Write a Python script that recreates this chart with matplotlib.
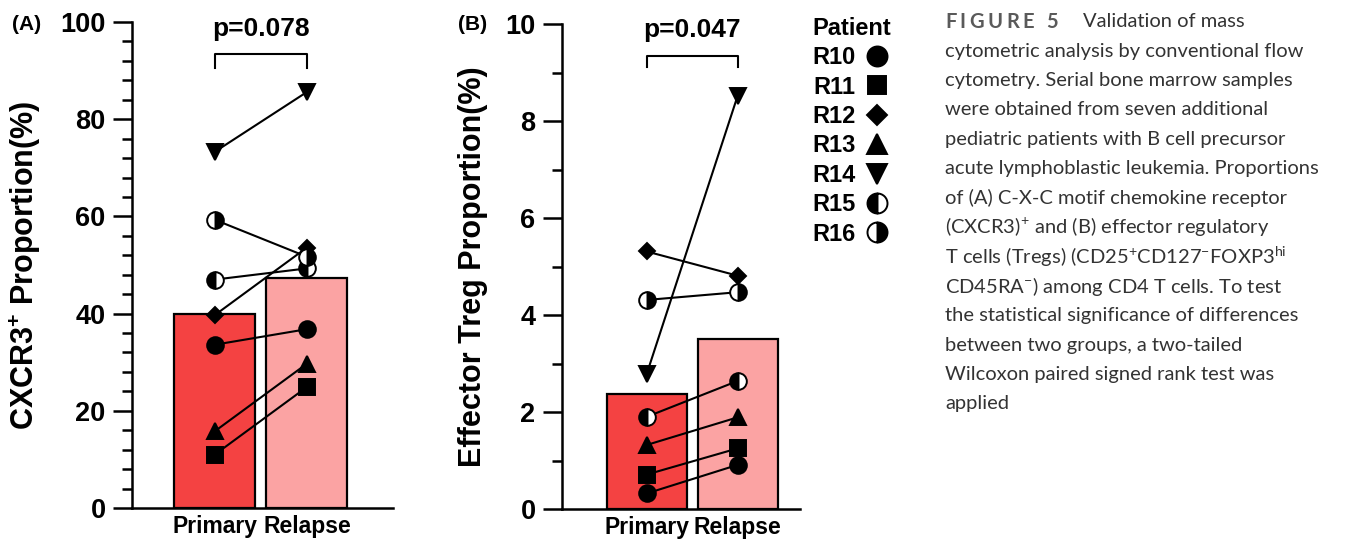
import numpy as np
import matplotlib
matplotlib.use("Agg")
import matplotlib.pyplot as plt
from matplotlib.lines import Line2D

# values (percent of CD4 T cells)
patients = ["R10", "R11", "R12", "R13", "R14", "R15", "R16"]
groups = ["Primary", "Relapse"]
cxcr3_primary = [33.6, 11.0, 39.7, 15.8, 73.3, 47.0, 59.3]
cxcr3_relapse = [36.8, 24.9, 53.6, 29.7, 85.6, 49.3, 51.7]
treg_primary = [0.32, 0.71, 5.31, 1.32, 2.78, 1.90, 4.31]
treg_relapse = [0.91, 1.25, 4.81, 1.89, 8.52, 2.64, 4.47]
p_cxcr3 = "p=0.078"
p_treg = "p=0.047"

caption_lines = [
    "cytometric analysis by conventional flow",
    "cytometry. Serial bone marrow samples",
    "were obtained from seven additional",
    "pediatric patients with B cell precursor",
    "acute lymphoblastic leukemia. Proportions",
    "of (A) C-X-C motif chemokine receptor",
    "(CXCR3)$^{+}$ and (B) effector regulatory",
    r"T cells (Tregs) (CD25$^{+}$CD127$^{-}$FOXP3$^{\mathrm{hi}}$",
    "CD45RA$^{-}$) among CD4 T cells. To test",
    "the statistical significance of differences",
    "between two groups, a two-tailed",
    "Wilcoxon paired signed rank test was",
    "applied",
]

# marker style per patient: (marker, size, fillstyle)
marker_styles = [("o", 12, "full"), ("s", 11, "full"), ("D", 8.5, "full"),
                 ("^", 11.5, "full"), ("v", 11.5, "full"),
                 ("o", 12, "left"), ("o", 12, "right")]

plt.rcParams["font.family"] = ["Liberation Sans", "DejaVu Sans"]
plt.rcParams["mathtext.fontset"] = "custom"
plt.rcParams["mathtext.rm"] = "Lato"
plt.rcParams["mathtext.bf"] = "Liberation Sans:bold"

W, H = 1369, 542
fig = plt.figure(figsize=(W / 100, H / 100), dpi=100)

col_primary = "#F44242"
col_relapse = "#FBA3A3"


def px_axes(left, right, bottom, top):
    return fig.add_axes([left / W, 1 - bottom / H, (right - left) / W, (bottom - top) / H])


def draw_panel(ax, prim, rel, ymax, minor_step, ylabel, ptxt, br_lo, br_hi, ptxt_y, xlim, lab_x):
    ax.bar([0, 1], [np.mean(prim), np.mean(rel)], width=0.88,
           color=[col_primary, col_relapse], edgecolor="black", linewidth=1.6, zorder=1)
    for i in range(len(patients)):
        m, s, fs = marker_styles[i]
        ax.plot([0, 1], [prim[i], rel[i]], color="black", lw=1.5, marker=m, ms=s,
                fillstyle=fs, mfc="black", mfcalt="white", mec="black", mew=1.4,
                zorder=3, clip_on=False)
    ax.plot([0, 0, 1, 1], [br_lo, br_hi, br_hi, br_lo], color="black", lw=1.5, clip_on=False)
    ax.text(0.5, ptxt_y, ptxt, ha="center", va="center", fontsize=19, fontweight="bold")
    ax.set_xlim(*xlim)
    ax.set_ylim(0, ymax)
    ax.set_yticks(np.linspace(0, ymax, 6))
    ax.set_yticks(np.arange(0, ymax + 0.001, minor_step), minor=True)
    ax.set_yticklabels([f"{v:g}" for v in np.linspace(0, ymax, 6)])
    ax.set_xticks([0, 1])
    ax.set_xticklabels(groups)
    for s in ["top", "right"]:
        ax.spines[s].set_visible(False)
    for s in ["left", "bottom"]:
        ax.spines[s].set_linewidth(1.8)
    ax.tick_params(axis="y", which="major", length=14, width=1.8, labelsize=19.5, pad=5)
    ax.tick_params(axis="y", which="minor", length=7, width=1.8)
    ax.tick_params(axis="x", length=0, labelsize=16.5, pad=5)
    for t in ax.get_yticklabels() + ax.get_xticklabels():
        t.set_fontweight("bold")
    ax.set_ylabel(ylabel, fontsize=22, fontweight="bold")
    ax.yaxis.set_label_coords(lab_x, 0.5)


axA = px_axes(132, 393, 508, 22)
draw_panel(axA, cxcr3_primary, cxcr3_relapse, 100, 4, r"CXCR3$^{\mathbf{+}}$ Proportion(%)",
           p_cxcr3, 90.6, 93.4, 98.5, (-0.90, 1.935), -0.34)

axB = px_axes(562, 800, 509, 24)
draw_panel(axB, treg_primary, treg_relapse, 10, 1, "Effector Treg Proportion(%)",
           p_treg, 9.12, 9.34, 9.87, (-0.93, 1.685), -0.31)

fig.text(12 / W, 1 - 25 / H, "(A)", fontsize=15, fontweight="bold", va="center")
fig.text(458 / W, 1 - 25 / H, "(B)", fontsize=15, fontweight="bold", va="center")

# legend: marker after the label
handles = []
for m, s, fs in marker_styles:
    handles.append(Line2D([], [], linestyle="none", marker=m, ms=s * 1.2, fillstyle=fs,
                          mfc="black", mfcalt="white", mec="black", mew=1.4))
fig.legend(handles, patients, title="Patient", loc="upper left",
           bbox_to_anchor=(812 / W, 1 - 17 / H), frameon=False, markerfirst=False,
           alignment="left", prop=dict(weight="bold", size=17),
           title_fontproperties=dict(weight="bold", size=17),
           handlelength=1.0, handletextpad=0.4, labelspacing=0.27,
           borderpad=0, borderaxespad=0)

# caption
cap_x = 945
cap_y0 = 21.7
cap_dy = 29.4
renderer = fig.canvas.get_renderer()
x = cap_x
for ch in "FIGURE 5":
    if ch == " ":
        x += 9
        continue
    t = fig.text(x / W, 1 - cap_y0 / H, ch, fontsize=14.5, family="Lato", fontweight="bold",
                 color="#5a5a5a", va="center")
    x += t.get_window_extent(renderer).width + 3.5
fig.text(1083 / W, 1 - cap_y0 / H, "Validation of mass", fontsize=14.5, family="Lato",
         color="#333333", va="center")
for i, line in enumerate(caption_lines):
    fig.text(cap_x / W, 1 - (cap_y0 + cap_dy * (i + 1)) / H, line, fontsize=14.5,
             family="Lato", color="#333333", va="center")

fig.savefig("out.png", dpi=100)
